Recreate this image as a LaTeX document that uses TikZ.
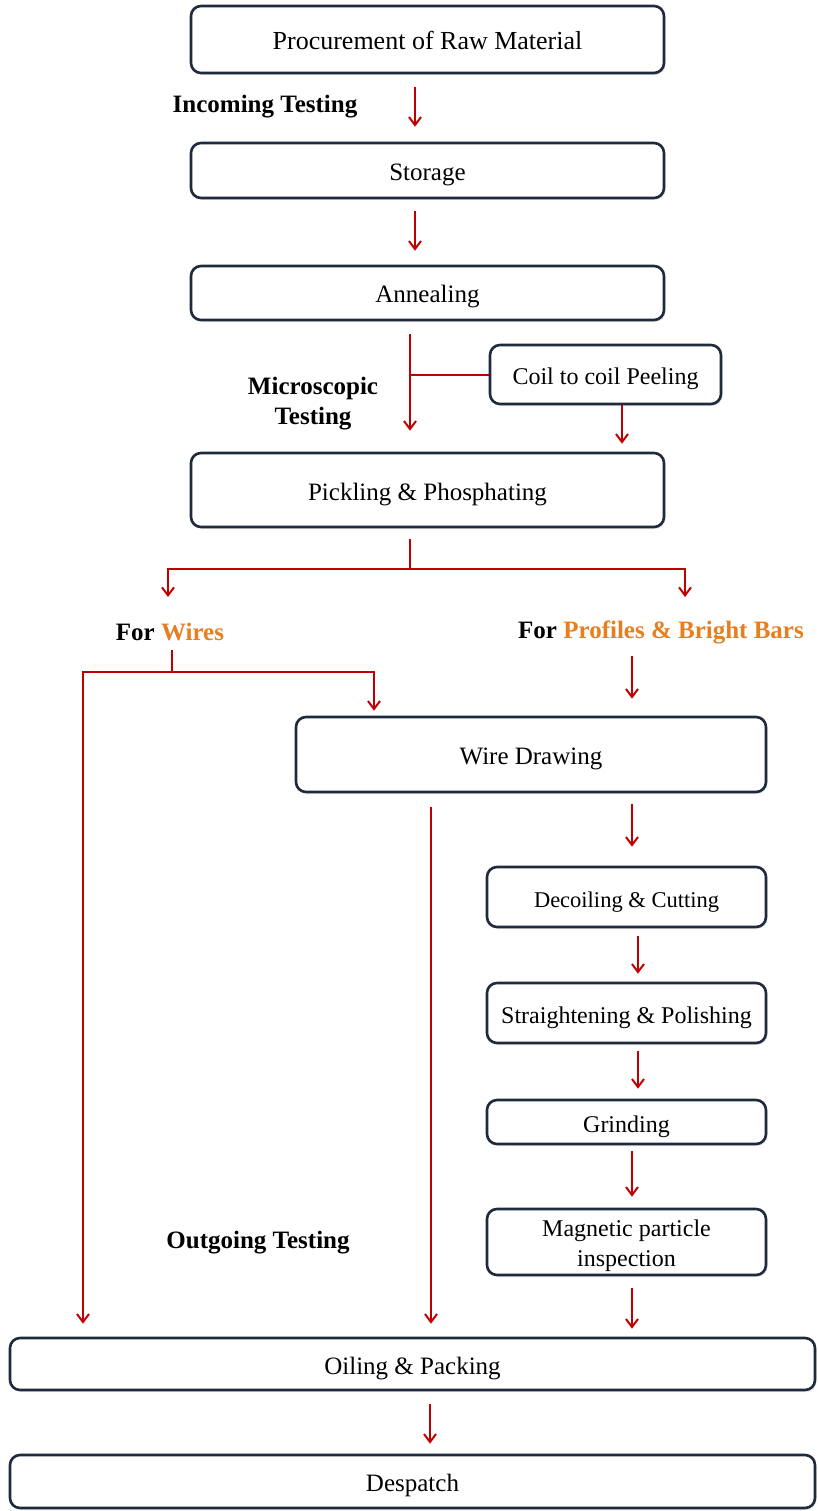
\documentclass[tikz,border=0pt]{standalone}
\usepackage{fontspec}
\setmainfont{Liberation Serif}
\usetikzlibrary{arrows.meta,calc,shadows}
\definecolor{arr}{HTML}{C00000}
\definecolor{edge}{HTML}{1F2A3C}
\definecolor{orng}{HTML}{E67E22}
\begin{document}
\begin{tikzpicture}[x=1pt,y=-1pt,
  box/.style={draw=edge, line width=2.6pt, rounded corners=10pt, fill=white, inner sep=0pt,
    align=center, font=\fontsize{25}{29}\selectfont, text height=20pt, text depth=0pt,
    drop shadow={opacity=0.18, shadow xshift=1.5pt, shadow yshift=-2pt}},
  lbl/.style={inner sep=0pt, align=center, font=\fontsize{25}{30}\selectfont\bfseries},
  flow/.style={draw=arr, line width=2pt, -{Straight Barb[length=8pt,width=12pt,line width=2pt]}},
  wire/.style={draw=arr, line width=2pt}]
\path[use as bounding box] (0,0) rectangle (817,1511);

% boxes
\node[box, minimum width=473, minimum height=67, font=\fontsize{26}{30}\selectfont] (proc) at (427.5,39.5) {Procurement of Raw Material};
\node[box, minimum width=473, minimum height=55] (stor) at (427.5,170.5) {Storage};
\node[box, minimum width=473, minimum height=54] (anneal) at (427.5,293) {Annealing};
\node[box, minimum width=231, minimum height=59, font=\fontsize{24}{28}\selectfont] (coil) at (605.5,374.5) {Coil to coil Peeling};
\node[box, minimum width=473, minimum height=74] (pick) at (427.5,490) {Pickling \& Phosphating};
\node[box, minimum width=470, minimum height=75] (wd) at (531,754.5) {Wire Drawing};
\node[box, minimum width=279, minimum height=60, font=\fontsize{22.5}{26}\selectfont] (dec) at (626.5,897) {Decoiling \& Cutting};
\node[box, minimum width=279, minimum height=60, font=\fontsize{24}{28}\selectfont] (str) at (626.5,1013) {Straightening \& Polishing};
\node[box, minimum width=279, minimum height=44, font=\fontsize{24}{28}\selectfont] (grind) at (626.5,1122) {Grinding};
\node[box, minimum width=279, minimum height=66, font=\fontsize{24}{30}\selectfont, text height=48pt, text depth=0pt] (mag) at (626.5,1242) {Magnetic particle\\inspection};
\node[box, minimum width=805, minimum height=52] (oil) at (412.5,1364) {Oiling \& Packing};
\node[box, minimum width=805, minimum height=53] (desp) at (412.5,1481.5) {Despatch};

% labels
\node[lbl] (incoming) at (265,107) {Incoming Testing};
\node[lbl] (micro) at (313,404) {Microscopic\\Testing};
\node[lbl] (wires) at (170,632) {For \textcolor{orng}{Wires}};
\node[lbl] (prof) at (661,632) {For \textcolor{orng}{Profiles \& Bright Bars}};
\node[lbl] (outgoing) at (258,1243) {Outgoing Testing};

% connectors
\draw[flow] ($(proc.south)+(-12.5,13)$) -- ($(stor.north)+(-12.5,-15)$);
\draw[flow] ($(stor.south)+(-12.5,12)$) -- ($(anneal.north)+(-12.5,-14)$);
\coordinate (aout) at ($(anneal.south)+(-17.5,13)$);
\draw[flow] (aout) -- ($(pick.north)+(-17.5,-21)$);
\draw[wire] (coil.west) -- (aout |- coil.west);
\draw[flow] ($(coil.south)+(16.5,0)$) -- ($(pick.north)+(194.5,-8)$);

\coordinate (pout) at ($(pick.south)+(-17.5,11)$);
\coordinate (split) at ($(pick.south)+(-17.5,41)$);
\draw[wire] (pout) -- (split);
\draw[flow] (split) -| ($(wires.center)+(-2,-35)$);
\draw[flow] (split) -| ($(prof.center)+(24,-35)$);

\coordinate (wjoin) at ($(wires.center)+(2,40)$);
\draw[wire] ($(wires.center)+(2,18)$) -- (wjoin);
\draw[flow] (wjoin) -| ($(wd.north)+(-157,-5)$);
\draw[flow] (wjoin) -| ($(oil.north)+(-329.5,-13)$);
\draw[flow] ($(prof.center)+(-29,24)$) -- ($(wd.north)+(101,-17)$);

\draw[flow] ($(wd.south)+(-100,14)$) -- ($(oil.north)+(18.5,-13)$);
\draw[flow] ($(wd.south)+(101,11)$) -- ($(dec.north)+(5.5,-19)$);
\draw[flow] ($(dec.south)+(11.5,8)$) -- ($(str.north)+(11.5,-8)$);
\draw[flow] ($(str.south)+(11.5,7)$) -- ($(grind.north)+(11.5,-10)$);
\draw[flow] ($(grind.south)+(5.5,6)$) -- ($(mag.north)+(5.5,-11)$);
\draw[flow] ($(mag.south)+(5.5,12)$) -- ($(oil.north)+(219.5,-8)$);
\draw[flow] ($(oil.south)+(17.5,13)$) -- ($(desp.north)+(17.5,-10)$);
\end{tikzpicture}
\end{document}
